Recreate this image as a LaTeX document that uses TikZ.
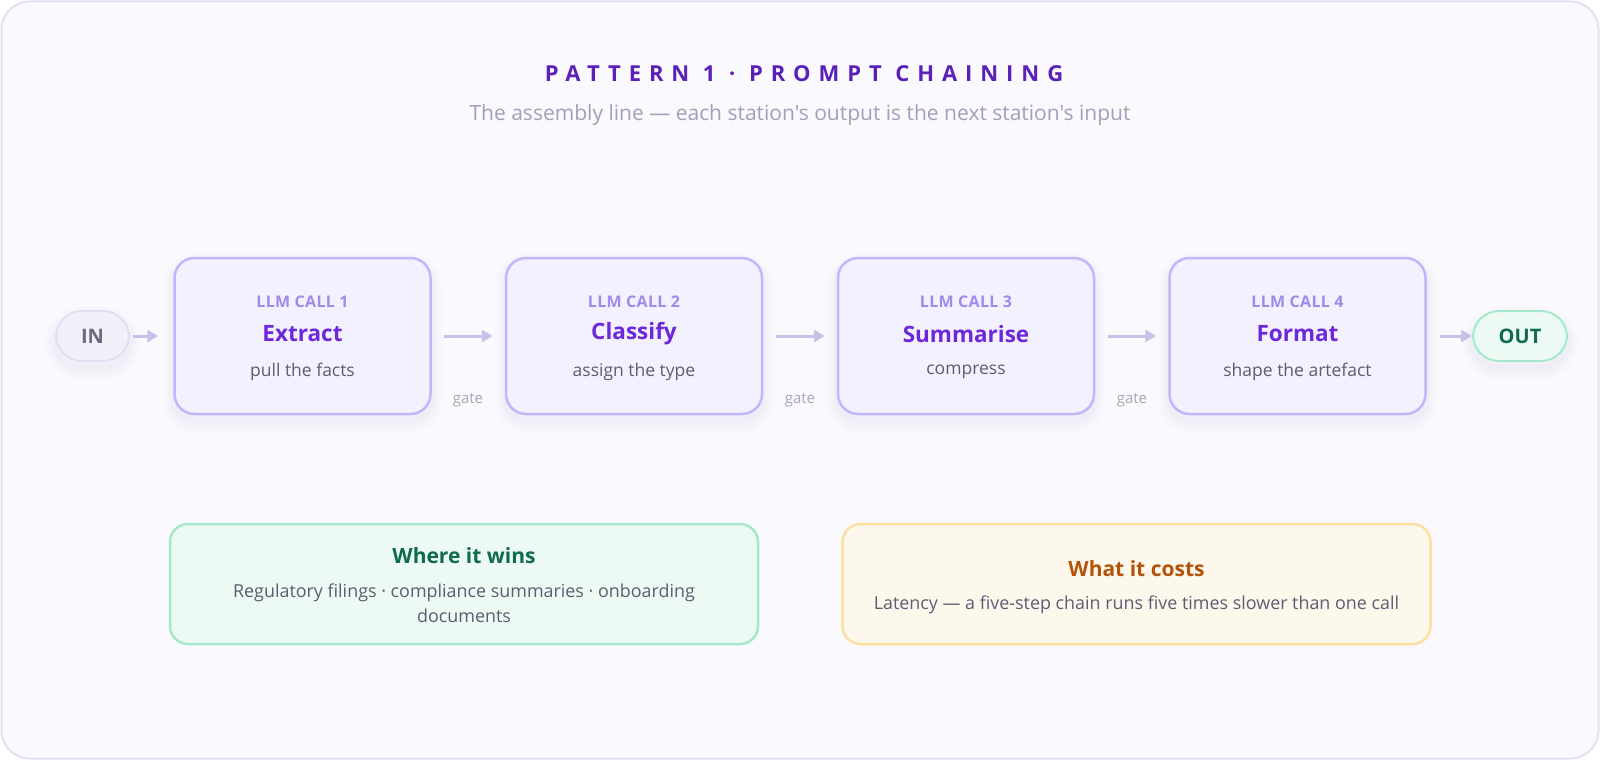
\documentclass[tikz,border=0pt]{standalone}
\usepackage{fontspec}
\setmainfont{Open Sans}
\newfontfamily\titlefont[LetterSpace=36]{Open Sans}
\newfontfamily\capfont[LetterSpace=2]{Open Sans}
\newfontfamily\subfont[Ligatures=ResetAll]{Open Sans}
\usetikzlibrary{arrows.meta}
\definecolor{bgfill}{HTML}{F9F9FE}
\definecolor{bgline}{HTML}{E3E1F5}
\definecolor{titlec}{HTML}{5B21B6}
\definecolor{subc}{HTML}{A39FB8}
\definecolor{boxfill}{HTML}{F3F1FD}
\definecolor{boxline}{HTML}{C4B5FD}
\definecolor{callc}{HTML}{A08AEC}
\definecolor{namec}{HTML}{6D28D9}
\definecolor{descc}{HTML}{5F5B73}
\definecolor{gatec}{HTML}{A8A4B8}
\definecolor{arrc}{HTML}{C9C0E8}
\definecolor{infill}{HTML}{F1F0F8}
\definecolor{inline}{HTML}{E2DFF3}
\definecolor{intext}{HTML}{6B6880}
\definecolor{grfill}{HTML}{EDFAF3}
\definecolor{grline}{HTML}{A7E8CC}
\definecolor{grtext}{HTML}{0F6B4A}
\definecolor{yefill}{HTML}{FDF8EC}
\definecolor{yeline}{HTML}{FBE1A0}
\definecolor{yetext}{HTML}{B45309}
\definecolor{shadowc}{HTML}{3B2F7A}
\tikzset{
  softshadow/.style={
    preaction={draw=shadowc, draw opacity=0.012, line width=22pt, transform canvas={yshift=-7pt}},
    preaction={draw=shadowc, draw opacity=0.014, line width=14pt, transform canvas={yshift=-7pt}},
    preaction={draw=shadowc, draw opacity=0.018, line width=7pt, transform canvas={yshift=-6pt}}},
  callbox/.style={softshadow, draw=boxline, line width=2.5pt, fill=boxfill, rounded corners=20pt,
    minimum width=256pt, minimum height=156pt, inner sep=0pt},
  calllabel/.style={font=\capfont\bfseries\fontsize{16}{18}\selectfont, text=callc, inner sep=0pt},
  callname/.style={font=\bfseries\fontsize{22.5}{26}\selectfont, text=namec, inner sep=0pt},
  calldesc/.style={font=\fontsize{17.5}{20}\selectfont, text=descc, inner sep=0pt},
  gatelabel/.style={font=\fontsize{15}{16}\selectfont, text=gatec, inner sep=0pt},
  arr/.style={draw=arrc, line width=3pt, -{Triangle[length=11pt,width=12pt]}},
  pill/.style={softshadow, rounded corners=26pt, minimum height=50pt, line width=2pt, inner sep=0pt,
    font=\bfseries\fontsize{20}{24}\selectfont},
  card/.style={rounded corners=18pt, minimum width=588pt, minimum height=120pt, line width=2.5pt, inner sep=0pt},
  cardtitle/.style={font=\bfseries\fontsize{21}{24}\selectfont, inner sep=0pt},
  cardbody/.style={font=\fontsize{17.9}{25}\selectfont, text=descc, inner sep=0pt, align=center},
}
\begin{document}
\begin{tikzpicture}[x=1pt, y=-1pt]
\useasboundingbox (0,0) rectangle (1600,760);
\fill[white] (0,0) rectangle (1600,760);
\draw[draw=bgline, fill=bgfill, line width=2pt, rounded corners=28pt] (1.5,1.5) rectangle (1598.5,758.5);

\node[font=\titlefont\bfseries\fontsize{22}{24}\selectfont, text=titlec, inner sep=0pt] (title) at (804,73.5) {PATTERN 1 · PROMPT CHAINING};
\node[font=\subfont\fontsize{21}{24}\selectfont, text=subc, inner sep=0pt] (subtitle) at (800,115) {The assembly line — each station's output is the next station's input};

% pills
\node[pill, draw=inline, fill=infill, text=intext, minimum width=73pt] (in) at (92.5,336) {IN};
\node[pill, draw=grline, fill=grfill, text=grtext, minimum width=94pt] (out) at (1520,336) {OUT};

% call boxes
\node[callbox] (b1) at (302.5,336) {};
\node[callbox] (b2) at (634,336) {};
\node[callbox] (b3) at (966,336) {};
\node[callbox] (b4) at (1297.5,336) {};

\node[calllabel] (l1) at (302.5,302) {LLM CALL 1};
\node[callname] (n1) at (302.5,334) {Extract};
\node[calldesc] (d1) at (302.5,372) {pull the facts};

\node[calllabel] (l2) at (634,302) {LLM CALL 2};
\node[callname] (n2) at (634,334) {Classify};
\node[calldesc] (d2) at (634,372) {assign the type};

\node[calllabel] (l3) at (966,302) {LLM CALL 3};
\node[callname] (n3) at (966,334) {Summarise};
\node[calldesc] (d3) at (966,372) {compress};

\node[calllabel] (l4) at (1297.5,302) {LLM CALL 4};
\node[callname] (n4) at (1297.5,334) {Format};
\node[calldesc] (d4) at (1297.5,372) {shape the artefact};

\node[gatelabel] (g1) at (468,400) {gate};
\node[gatelabel] (g2) at (800,400) {gate};
\node[gatelabel] (g3) at (1132,400) {gate};

% arrows
\draw[arr, shorten <=3pt, shorten >=15pt] (in.east) -- (b1.west);
\draw[arr, shorten <=12.5pt, shorten >=12pt] (b1.east) -- (b2.west);
\draw[arr, shorten <=12.5pt, shorten >=12pt] (b2.east) -- (b3.west);
\draw[arr, shorten <=12.5pt, shorten >=12pt] (b3.east) -- (b4.west);
\draw[arr, shorten <=13pt, shorten >=0pt] (b4.east) -- (out.west);

% cards
\node[card, draw=grline, fill=grfill] (wins) at (464,584) {};
\node[cardtitle, text=grtext] (winst) at (464,556) {Where it wins};
\node[cardbody] (winsb) at (464,603.5) {Regulatory filings · compliance summaries · onboarding\\documents};

\node[card, draw=yeline, fill=yefill] (costs) at (1136.5,584) {};
\node[cardtitle, text=yetext] (costst) at (1136.5,569) {What it costs};
\node[cardbody] (costsb) at (1136.5,605) {Latency — a five-step chain runs five times slower than one call};
\end{tikzpicture}
\end{document}
